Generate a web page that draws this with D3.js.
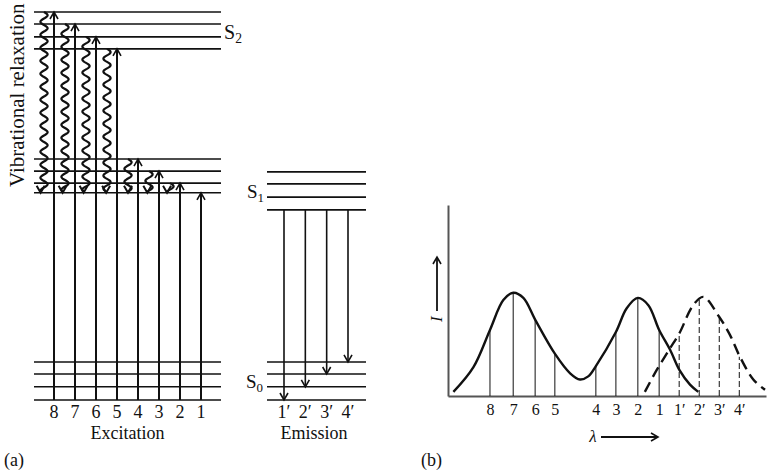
<!DOCTYPE html>
<html>
<head>
<meta charset="utf-8">
<script src="https://cdn.jsdelivr.net/npm/d3@7"></script>
<style>
  body { margin: 0; background: #fff; }
</style>
</head>
<body>
<svg id="chart" width="767" height="470"></svg>
<script>
// ---- (a) energy levels, arbitrary energy units (0 = lowest S0 level)
var s0Levels = [0, 3.4, 6.7, 9.8];
var s1Levels = [53.4, 55.9, 59.0, 62.1];     // S1 as drawn under "Excitation"
var s1EmLevels = [49.0, 52.3, 55.7, 58.8];   // S1 as drawn under "Emission"
var s2Levels = [90.5, 93.6, 96.9, 100];

var excLabels = ["8", "7", "6", "5", "4", "3", "2", "1"];
var excUpper = [100, 96.9, 93.6, 90.5, 62.1, 59.0, 55.9, 53.4];
var emLabels = ["1\u2032", "2\u2032", "3\u2032", "4\u2032"];
var emLower = [0, 3.4, 6.7, 9.8];

// ---- (b) spectra, relative wavelength (0-100) vs relative intensity
var excLambda = [1.7, 8.0, 13.2, 17.4, 20.5, 23.7, 27.4, 33.6, 38.4, 41.5, 44.1, 46.5, 52.8, 56.2, 59.7, 63.0, 66.4, 69.8, 72.8, 76.1, 78.7];
var excIntensity = [4, 28, 64, 93, 100, 95, 74, 41, 22, 16, 19, 29, 62, 85, 95, 88, 64, 45, 25, 11, 4];
var emLambda = [61.9, 65.6, 69.8, 72.8, 77.1, 80.3, 85.2, 88.7, 91.8, 96.0, 99.7];
var emIntensity = [4, 25, 46, 61, 88, 96, 77, 59, 38, 16, 6];

var excLineLambda = [13.2, 20.5, 27.4, 33.6, 46.5, 52.8, 59.7, 66.4];
var excLineI = [64, 100, 74, 41, 29, 62, 95, 64];
var emLineLambda = [72.7, 79.0, 85.3, 91.6];
var emLineI = [61, 93, 77, 38];

var serif = "'Liberation Serif', 'Times New Roman', serif";
var svg = d3.select("#chart").style("font-family", serif);
var ink = "#111";

// open "V" arrow head, tip at (x,y), dir = "up" | "down" | "right"
function arrowHead(g, x, y, dir, w) {
  var h = 7, s = w || 1.6;
  var d;
  if (dir == "up") d = "M" + (x - 4) + "," + (y + h) + "L" + x + "," + y + "L" + (x + 4) + "," + (y + h);
  else if (dir == "down") d = "M" + (x - 4) + "," + (y - h) + "L" + x + "," + y + "L" + (x + 4) + "," + (y - h);
  else d = "M" + (x - h) + "," + (y - 4) + "L" + x + "," + y + "L" + (x - h) + "," + (y + 4);
  g.append("path").attr("d", d).attr("fill", "none")
   .attr("stroke", ink).attr("stroke-width", s);
}

// ================= (a) =================
var yE = d3.scaleLinear().domain([0, 100]).range([400, 12]);
var xExc = d3.scalePoint().domain(excLabels).range([54, 201]);
var xEm = d3.scalePoint().domain(emLabels).range([284, 348]);

var gA = svg.append("g").attr("class", "panel-a");

// level lines
var leftLevels = s0Levels.concat(s1Levels, s2Levels);
gA.selectAll("line.lev-left")
  .data(leftLevels).enter().append("line")
  .attr("class", "lev-left")
  .attr("x1", 34).attr("x2", 221)
  .attr("y1", function(d) { return yE(d); })
  .attr("y2", function(d) { return yE(d); })
  .attr("stroke", ink).attr("stroke-width", 1.6);

var rightLevels = s0Levels.concat(s1EmLevels);
gA.selectAll("line.lev-right")
  .data(rightLevels).enter().append("line")
  .attr("class", "lev-right")
  .attr("x1", 267).attr("x2", 366)
  .attr("y1", function(d) { return yE(d); })
  .attr("y2", function(d) { return yE(d); })
  .attr("stroke", ink).attr("stroke-width", 1.6);

// excitation arrows
excLabels.forEach(function(lab, i) {
  var x = xExc(lab);
  gA.append("line")
    .attr("x1", x).attr("x2", x)
    .attr("y1", yE(0)).attr("y2", yE(excUpper[i]))
    .attr("stroke", ink).attr("stroke-width", 2);
  arrowHead(gA, x, yE(excUpper[i]), "up");

  // vibrational relaxation down to lowest S1 level
  var top = yE(excUpper[i]), bot = yE(s1Levels[0]);
  if (bot - top > 2) {
    var x0 = x - 10;
    var pts = d3.range(top, bot - 1, 0.5).map(function(y) {
      return [x0 + 3.6 * Math.sin((y - top) / 13 * 2 * Math.PI), y];
    });
    gA.append("path")
      .attr("d", d3.line()(pts))
      .attr("fill", "none").attr("stroke", ink).attr("stroke-width", 2.2);
    arrowHead(gA, pts[pts.length - 1][0], bot, "down", 2);
  }
});

// emission arrows
emLabels.forEach(function(lab, i) {
  var x = xEm(lab);
  gA.append("line")
    .attr("x1", x).attr("x2", x)
    .attr("y1", yE(s1EmLevels[0])).attr("y2", yE(emLower[i]))
    .attr("stroke", ink).attr("stroke-width", 1.6);
  arrowHead(gA, x, yE(emLower[i]), "down");
});

// labels
gA.selectAll("text.exc").data(excLabels).enter().append("text")
  .attr("class", "exc")
  .attr("x", function(d) { return xExc(d); })
  .attr("y", 418).attr("text-anchor", "middle").attr("fill", ink)
  .style("font-size", "18px").text(function(d) { return d; });

gA.selectAll("text.em").data(emLabels).enter().append("text")
  .attr("class", "em")
  .attr("x", function(d) { return xEm(d); })
  .attr("y", 418).attr("text-anchor", "middle").attr("fill", ink)
  .style("font-size", "18px").text(function(d) { return d; });

gA.append("text").attr("x", 127.5).attr("y", 439).attr("text-anchor", "middle")
  .attr("fill", ink).style("font-size", "18px").text("Excitation");
gA.append("text").attr("x", 314).attr("y", 439).attr("text-anchor", "middle")
  .attr("fill", ink).style("font-size", "18px").text("Emission");
gA.append("text").attr("x", 4).attr("y", 466)
  .attr("fill", ink).style("font-size", "18px").text("(a)");

gA.append("text")
  .attr("transform", "translate(24," + 187 + ") rotate(-90)")
  .attr("fill", ink).style("font-size", "21px").text("Vibrational relaxation");

function stateLabel(x, y, sub, size) {
  var t = gA.append("text").attr("x", x).attr("y", y).attr("fill", ink)
    .style("font-size", size + "px");
  t.append("tspan").text("S");
  t.append("tspan").attr("dy", 4).style("font-size", (size * 0.68) + "px").text(sub);
}
stateLabel(224, yE(s2Levels[1]) + 2, "2", 20);
stateLabel(247, yE(s1EmLevels[1]) + 1, "1", 19);
stateLabel(246, yE(s0Levels[1]) + 1, "0", 19);

// ================= (b) =================
var xL = d3.scaleLinear().domain([0, 100]).range([448, 766]);
var yI = d3.scaleLinear().domain([0, 185]).range([396, 205]);
var gB = svg.append("g").attr("class", "panel-b");

var allLambda = excLineLambda.concat(emLineLambda);
var allLabels = excLabels.concat(emLabels);

var xAxis = gB.append("g")
  .attr("transform", "translate(0," + yI(0) + ")")
  .call(d3.axisBottom(xL).tickValues(allLambda).tickSize(0).tickPadding(8)
        .tickFormat(function(d, i) { return allLabels[i]; }));
xAxis.attr("font-family", null);
xAxis.select(".domain").attr("stroke", "#555").attr("stroke-width", 2);
xAxis.selectAll("text")
  .style("font-family", serif)
  .style("font-size", "16px").attr("fill", ink);

var yAxis = gB.append("g")
  .attr("transform", "translate(" + xL(0) + ",0)")
  .call(d3.axisLeft(yI).tickValues([]).tickSizeOuter(0));
yAxis.select(".domain").attr("stroke", "#555").attr("stroke-width", 2);

// vertical lines under the curves
gB.selectAll("line.exc-v").data(excLineLambda).enter().append("line")
  .attr("class", "exc-v")
  .attr("x1", function(d) { return xL(d); })
  .attr("x2", function(d) { return xL(d); })
  .attr("y1", yI(0))
  .attr("y2", function(d, i) { return yI(excLineI[i]); })
  .attr("stroke", ink).attr("stroke-width", 1);

gB.selectAll("line.em-v").data(emLineLambda).enter().append("line")
  .attr("class", "em-v")
  .attr("x1", function(d) { return xL(d); })
  .attr("x2", function(d) { return xL(d); })
  .attr("y1", yI(0))
  .attr("y2", function(d, i) { return yI(emLineI[i]); })
  .attr("stroke", ink).attr("stroke-width", 1)
  .attr("stroke-dasharray", "6,3");

var spec = d3.line()
  .x(function(d) { return xL(d[0]); })
  .y(function(d) { return yI(d[1]); })
  .curve(d3.curveCatmullRom.alpha(0.5));

gB.append("path")
  .attr("d", spec(d3.zip(excLambda, excIntensity)))
  .attr("fill", "none").attr("stroke", ink).attr("stroke-width", 2.4);

gB.append("path")
  .attr("d", spec(d3.zip(emLambda, emIntensity)))
  .attr("fill", "none").attr("stroke", ink).attr("stroke-width", 2.4)
  .attr("stroke-dasharray", "11,6");

// I arrow and label
gB.append("line").attr("x1", 437).attr("x2", 437).attr("y1", 311).attr("y2", 258)
  .attr("stroke", ink).attr("stroke-width", 1.8);
arrowHead(gB, 437, 257, "up");
gB.append("text")
  .attr("transform", "translate(442,322) rotate(-90)")
  .attr("fill", ink).style("font-size", "17px").style("font-style", "italic").text("I");

// lambda arrow
gB.append("text").attr("x", 593).attr("y", 442).attr("text-anchor", "middle")
  .attr("fill", ink).style("font-size", "17px").style("font-style", "italic").text("\u03bb");
gB.append("line").attr("x1", 601).attr("x2", 657).attr("y1", 437).attr("y2", 437)
  .attr("stroke", ink).attr("stroke-width", 1.8);
arrowHead(gB, 658, 437, "right");

gB.append("text").attr("x", 421).attr("y", 466)
  .attr("fill", ink).style("font-size", "18px").text("(b)");
</script>
</body>
</html>
